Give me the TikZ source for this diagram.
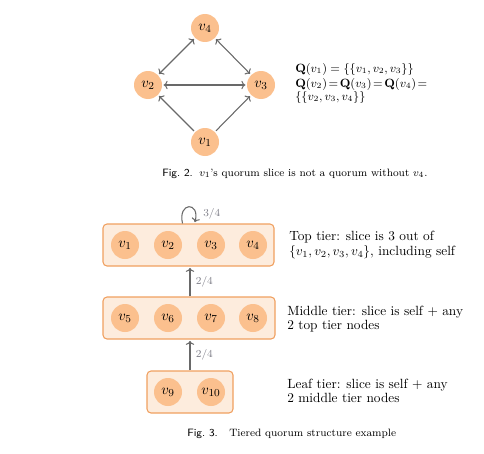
\documentclass[tikz,border=0pt]{standalone}
\usepackage{amsmath}
\usepackage{xcolor}
\usetikzlibrary{arrows.meta, positioning, calc}

\definecolor{nodeorange}{RGB}{251,192,142}
\definecolor{tierfill}{RGB}{253,236,221}
\definecolor{tierdraw}{RGB}{240,160,96}
\definecolor{conngray}{RGB}{105,105,105}
\definecolor{lblgray}{RGB}{125,125,135}

\begin{document}
\begin{tikzpicture}[
    x=0.75pt, y=-0.75pt,
    vnode/.style={
      circle, fill=nodeorange, draw=none,
      minimum size=21pt, inner sep=0pt,
      font=\fontsize{11}{12}\selectfont
    },
    tierbox/.style={
      rectangle, draw=tierdraw, fill=tierfill, line width=0.8pt,
      rounded corners=3pt, inner sep=0pt
    },
    conn/.style={-{To[length=3pt]}, conngray, line width=0.8pt, shorten >=1pt, shorten <=1pt},
    biconn/.style={{To[length=3pt]}-{To[length=3pt]}, conngray, line width=0.8pt, shorten >=1pt, shorten <=1pt},
    lbl/.style={font=\fontsize{8}{9}\selectfont, text=lblgray, inner sep=0pt},
    desc/.style={font=\fontsize{10}{9.8}\selectfont, anchor=base west, inner sep=0pt},
    qline/.style={font=\fontsize{8.7}{10}\selectfont, anchor=base west, inner sep=0pt},
    figcap/.style={font=\fontsize{8}{10}\selectfont, anchor=base west, inner sep=0pt},
  ]
  \useasboundingbox (0,0) rectangle (484,453);

  % Fig. 2: quorum slices
  \node[vnode] (v4) at (205,28) {$v_4$};
  \node[vnode] (v2) at (148,85) {$v_2$};
  \node[vnode] (v3) at (261,85) {$v_3$};
  \node[vnode] (v1) at (205,142) {$v_1$};

  \draw[biconn] (v2) -- (v4);
  \draw[biconn] (v4) -- (v3);
  \draw[biconn] (v2) -- (v3);
  \draw[conn] (v1) -- (v2);
  \draw[conn] (v1) -- (v3);

  \node[qline] (q1) at (295,72) {$\mathbf{Q}(v_1) = \{\{v_1, v_2, v_3\}\}$};
  \node[qline] (q2) at (295,87) {\makebox[99pt][s]{$\mathbf{Q}(v_2)$\hfil$=$\hfil$\mathbf{Q}(v_3)$\hfil$=$\hfil$\mathbf{Q}(v_4)$\hfil$=$}};
  \node[qline] (q3) at (295,100) {$\{\{v_2, v_3, v_4\}\}$};

  \node[figcap] (fig2) at (162,176) {\sffamily Fig.~2.};
  \node[figcap] (fig2text) at (199,176) {$v_1$'s quorum slice is not a quorum without $v_4$.};

  % Fig. 3: tiered structure
  \node[tierbox, minimum width=128.25pt, minimum height=31.5pt] (top) at (188.5,245) {};
  \node[tierbox, minimum width=129pt, minimum height=31.5pt] (mid) at (189,318) {};
  \node[tierbox, minimum width=64.5pt, minimum height=31.5pt] (leaf) at (190,392) {};

  \node[vnode] (t1) at (125,245) {$v_1$};
  \node[vnode] (t2) at (168,245) {$v_2$};
  \node[vnode] (t3) at (211,245) {$v_3$};
  \node[vnode] (t4) at (253,245) {$v_4$};

  \node[vnode] (m5) at (125,318) {$v_5$};
  \node[vnode] (m6) at (168,318) {$v_6$};
  \node[vnode] (m7) at (211,318) {$v_7$};
  \node[vnode] (m8) at (253,318) {$v_8$};

  \node[vnode] (l9) at (168,392) {$v_9$};
  \node[vnode] (l10) at (211,392) {$v_{10}$};

  \draw[conn, shorten <=0pt] ([xshift=-4.5pt]top.north) .. controls +(-5,-22) and +(6,-22) .. ([xshift=4.5pt]top.north);
  \node[lbl, anchor=west] (selflbl) at (203,214) {3/4};

  \draw[conn, shorten <=0pt] (mid.north -| leaf.north) -- (top.south -| leaf.north)
    node[lbl, midway, right=4pt] {2/4};
  \draw[conn, shorten <=0pt] (leaf.north) -- (mid.south -| leaf.north)
    node[lbl, midway, right=4pt] {2/4};

  \node[desc] (topdesc1) at (289,240) {Top tier: slice is 3 out of};
  \node[desc] (topdesc2) at (289,255) {$\{v_1, v_2, v_3, v_4\}$, including self};
  \node[desc] (middesc1) at (287,315.5) {Middle tier: slice is self + any};
  \node[desc] (middesc2) at (287,329) {2 top tier nodes};
  \node[desc] (leafdesc1) at (287,388.5) {Leaf tier: slice is self + any};
  \node[desc] (leafdesc2) at (287,402) {2 middle tier nodes};

  \node[figcap] (fig3) at (187,436) {\sffamily Fig.~3.};
  \node[figcap] (fig3text) at (229,436) {Tiered quorum structure example};
\end{tikzpicture}
\end{document}
